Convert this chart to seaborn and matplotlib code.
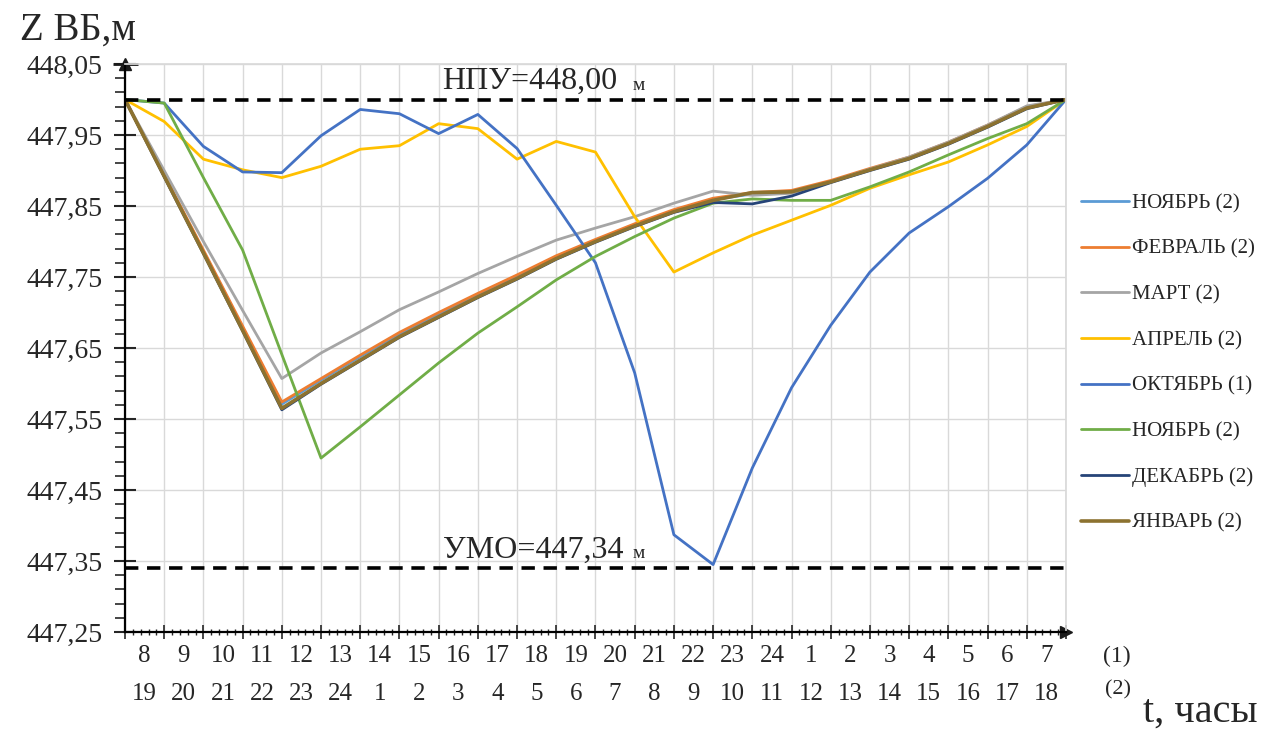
import numpy as np
import pandas as pd
import seaborn as sns
import matplotlib.pyplot as plt
from matplotlib.ticker import MultipleLocator, FuncFormatter

# часы: ряд (1) и ряд (2)
hours_1 = [8, 9, 10, 11, 12, 13, 14, 15, 16, 17, 18, 19, 20, 21, 22, 23, 24, 1, 2, 3, 4, 5, 6, 7]
hours_2 = [19, 20, 21, 22, 23, 24, 1, 2, 3, 4, 5, 6, 7, 8, 9, 10, 11, 12, 13, 14, 15, 16, 17, 18]
step = list(range(25))

noyabr_a = [448.00, 447.892, 447.786, 447.679, 447.571, 447.605, 447.638, 447.670, 447.698, 447.725,
            447.751, 447.778, 447.801, 447.823, 447.843, 447.859, 447.867, 447.870, 447.884, 447.901,
            447.917, 447.938, 447.962, 447.988, 448.00]
fevral = [448.00, 447.894, 447.788, 447.681, 447.574, 447.607, 447.640, 447.672, 447.700, 447.727,
          447.753, 447.780, 447.803, 447.825, 447.845, 447.861, 447.869, 447.872, 447.886, 447.903,
          447.919, 447.940, 447.964, 447.990, 448.00]
mart = [448.00, 447.900, 447.800, 447.703, 447.607, 447.643, 447.673, 447.704, 447.729, 447.755,
        447.779, 447.802, 447.819, 447.835, 447.854, 447.871, 447.865, 447.868, 447.884, 447.902,
        447.919, 447.940, 447.964, 447.991, 448.00]
aprel = [448.00, 447.969, 447.916, 447.901, 447.890, 447.906, 447.930, 447.935, 447.966, 447.959,
         447.916, 447.941, 447.926, 447.835, 447.757, 447.784, 447.809, 447.830, 447.851, 447.875,
         447.894, 447.912, 447.936, 447.962, 448.00]
oktyabr = [448.00, 447.995, 447.934, 447.898, 447.897, 447.949, 447.986, 447.980, 447.952, 447.979,
           447.931, 447.851, 447.770, 447.615, 447.387, 447.345, 447.481, 447.594, 447.682, 447.757,
           447.812, 447.849, 447.889, 447.936, 448.00]
noyabr_b = [448.00, 447.995, 447.890, 447.788, 447.641, 447.495, 447.539, 447.584, 447.629, 447.671,
            447.708, 447.746, 447.779, 447.807, 447.833, 447.854, 447.860, 447.858, 447.858, 447.877,
            447.898, 447.922, 447.945, 447.966, 448.00]
dekabr = [448.00, 447.891, 447.783, 447.674, 447.563, 447.599, 447.632, 447.665, 447.693, 447.721,
          447.747, 447.775, 447.799, 447.821, 447.841, 447.855, 447.853, 447.864, 447.883, 447.900,
          447.916, 447.937, 447.961, 447.987, 448.00]
yanvar = [448.00, 447.892, 447.784, 447.675, 447.565, 447.600, 447.633, 447.666, 447.694, 447.722,
          447.748, 447.776, 447.800, 447.822, 447.842, 447.858, 447.869, 447.870, 447.884, 447.901,
          447.917, 447.938, 447.962, 447.988, 448.00]

names = ["НОЯБРЬ (2)", "ФЕВРАЛЬ (2)", "МАРТ (2)", "АПРЕЛЬ (2)", "ОКТЯБРЬ (1)",
         "НОЯБРЬ (2)", "ДЕКАБРЬ (2)", "ЯНВАРЬ (2)"]
series = [noyabr_a, fevral, mart, aprel, oktyabr, noyabr_b, dekabr, yanvar]
colors = ["#5B9BD5", "#ED7D31", "#A5A5A5", "#FFC000", "#4472C4", "#70AD47", "#264478", "#8C7230"]
npu = 448.00
umo = 447.34
y_major = np.round(np.arange(447.25, 448.06, 0.1), 2)
y_minor = np.round(np.arange(447.25, 448.06, 0.02), 2)

sns.set_theme(style="white")
plt.rcParams['font.family'] = ['Liberation Serif', 'DejaVu Serif']

fig = plt.figure(figsize=(12.69, 7.31), dpi=100)
ax = fig.add_axes([0.0985, 0.1354, 0.7415, 0.777])

for vals, name, col in zip(series, names, colors):
    lw = 2.6 if name == "ЯНВАРЬ (2)" else 2.0
    sns.lineplot(x=step, y=vals, color=col, lw=lw, label=name, ax=ax, sort=False)

ax.axhline(npu, color="black", lw=2.6, ls=(0, (3.7, 2.4)), zorder=5)
ax.axhline(umo, color="black", lw=2.6, ls=(0, (3.7, 2.4)), zorder=5)
ax.text(8.1, npu + 0.005, "НПУ=448,00", fontsize=23, va="bottom", ha="left")
ax.text(12.95, npu + 0.008, "м", fontsize=14, va="bottom", ha="left")
ax.text(8.1, umo + 0.005, "УМО=447,34", fontsize=23, va="bottom", ha="left")
ax.text(12.95, umo + 0.008, "м", fontsize=14, va="bottom", ha="left")

ax.set_xlim(0, 24)
ax.set_ylim(447.25, 448.05)
ax.set_yticks(y_major)
ax.set_yticks(y_minor, minor=True)
ax.yaxis.set_major_formatter(FuncFormatter(lambda v, p: f"{v:.2f}".replace(".", ",")))
ax.xaxis.set_major_locator(MultipleLocator(1))
ax.xaxis.set_minor_locator(MultipleLocator(0.2))
ax.set_xticklabels([])
ax.tick_params(axis="y", which="major", direction="inout", length=16, width=1.5,
               labelsize=20, pad=8, left=True)
ax.tick_params(axis="y", which="minor", direction="out", length=7, width=1.2, left=True)
ax.tick_params(axis="x", which="major", direction="inout", length=10, width=1.2, bottom=True)
ax.tick_params(axis="x", which="minor", direction="inout", length=4, width=1, bottom=True)
ax.grid(True, which="major", color="#D9D9D9", lw=1)
ax.set_xlabel("")
ax.set_ylabel("")

for s in ["top", "right"]:
    ax.spines[s].set_color("#D9D9D9")
for s in ["left", "bottom"]:
    ax.spines[s].set_color("black")
    ax.spines[s].set_linewidth(1.6)
ax.plot(1, 0, ">k", transform=ax.transAxes, clip_on=False, ms=9)
ax.plot(0, 1, "^k", transform=ax.transAxes, clip_on=False, ms=9)
ax.plot(0, 1, "_k", transform=ax.transAxes, clip_on=False, ms=18, mew=2)

sec = ax.secondary_xaxis("bottom")
sec.set_xticks(np.arange(0.5, 24, 1))
sec.set_xticklabels([f"{a}\n{b}" for a, b in zip(hours_1, hours_2)], linespacing=1.95)
sec.tick_params(length=0, labelsize=18, pad=9)
sec.spines["bottom"].set_visible(False)

fig.text(1103 / 1269, 1 - 656 / 731, "(1)", fontsize=17, va="center", ha="left")
fig.text(1105 / 1269, 1 - 690 / 731, "(2)", fontsize=16, va="center", ha="left")
fig.text(1143 / 1269, 1 - 712 / 731, "t, часы", fontsize=29, va="center", ha="left")
fig.text(20 / 1269, 1 - 30 / 731, "Z ВБ,м", fontsize=28, va="center", ha="left")

handles, labels = ax.get_legend_handles_labels()
ax.get_legend().remove()
fig.legend(handles, labels, loc="upper left", bbox_to_anchor=(1062 / 1269, 1 - 175 / 731),
           frameon=False, fontsize=15, handlelength=2.3, handletextpad=0.15, labelspacing=1.25)

fig.savefig("out.png", dpi=100)
